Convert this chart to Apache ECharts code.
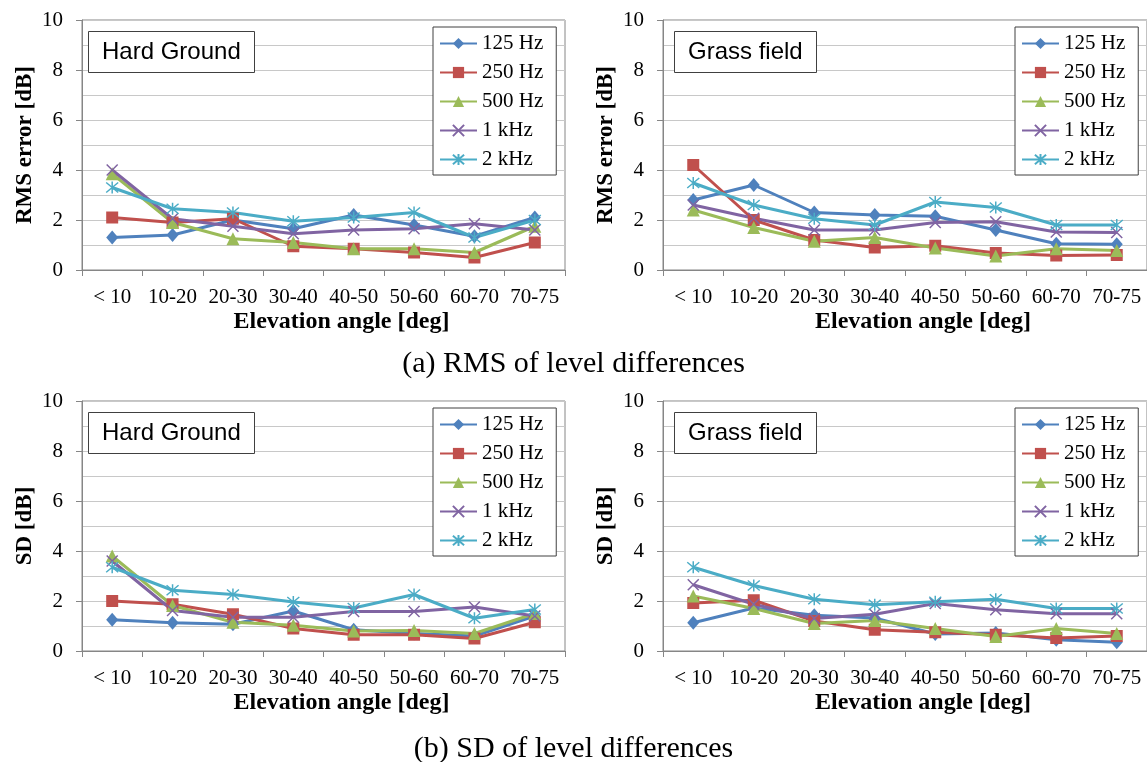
<!DOCTYPE html>
<html>
<head>
<meta charset="utf-8">
<script src="https://cdn.jsdelivr.net/npm/echarts@6/dist/echarts.min.js"></script>
<style>
  html, body { margin: 0; padding: 0; background: #fff; }
  #main { width: 1147px; height: 762px; }
</style>
</head>
<body>
<div id="main"></div>
<script>
var categories = ['< 10', '10-20', '20-30', '30-40', '40-50', '50-60', '60-70', '70-75'];
var seriesNames = ['125 Hz', '250 Hz', '500 Hz', '1 kHz', '2 kHz'];

// (a) RMS, hard ground
var rmsHard125 = [1.3, 1.4, 2.0, 1.65, 2.2, 1.8, 1.35, 2.1];
var rmsHard250 = [2.1, 1.9, 2.05, 0.95, 0.85, 0.7, 0.5, 1.1];
var rmsHard500 = [3.85, 1.9, 1.25, 1.1, 0.85, 0.85, 0.7, 1.75];
var rmsHard1k = [4.0, 2.05, 1.75, 1.45, 1.6, 1.65, 1.85, 1.6];
var rmsHard2k = [3.3, 2.45, 2.3, 1.95, 2.1, 2.3, 1.3, 2.0];

// (a) RMS, grass field
var rmsGrass125 = [2.8, 3.4, 2.3, 2.2, 2.15, 1.6, 1.05, 1.03];
var rmsGrass250 = [4.2, 2.0, 1.2, 0.9, 0.97, 0.68, 0.58, 0.6];
var rmsGrass500 = [2.4, 1.7, 1.15, 1.3, 0.88, 0.56, 0.85, 0.78];
var rmsGrass1k = [2.6, 2.07, 1.6, 1.6, 1.9, 1.93, 1.52, 1.5];
var rmsGrass2k = [3.48, 2.6, 2.05, 1.8, 2.72, 2.5, 1.8, 1.8];

// (b) SD, hard ground
var sdHard125 = [1.25, 1.13, 1.07, 1.6, 0.85, 0.7, 0.6, 1.4];
var sdHard250 = [2.0, 1.87, 1.47, 0.9, 0.65, 0.65, 0.5, 1.15];
var sdHard500 = [3.8, 1.82, 1.15, 1.03, 0.8, 0.82, 0.7, 1.5];
var sdHard1k = [3.6, 1.62, 1.35, 1.35, 1.58, 1.58, 1.76, 1.4];
var sdHard2k = [3.35, 2.43, 2.26, 1.96, 1.72, 2.26, 1.31, 1.66];

// (b) SD, grass field
var sdGrass125 = [1.13, 1.72, 1.43, 1.32, 0.68, 0.72, 0.45, 0.35];
var sdGrass250 = [1.92, 2.03, 1.2, 0.85, 0.75, 0.65, 0.52, 0.6];
var sdGrass500 = [2.2, 1.7, 1.1, 1.22, 0.9, 0.58, 0.9, 0.7];
var sdGrass1k = [2.65, 1.87, 1.3, 1.47, 1.9, 1.65, 1.49, 1.49];
var sdGrass2k = [3.35, 2.62, 2.07, 1.85, 1.97, 2.07, 1.7, 1.7];

var colors = ['#4F81BD', '#C0504D', '#9BBB59', '#8064A2', '#4BACC6'];
var symbols = ['diamond', 'rect', 'triangle',
  'path://M0,0L10,10M10,0L0,10',
  'path://M0,0L10,10M10,0L0,10M5,-1L5,11'];
var symbolSizes = [[12, 14], 12, 13, 11, 12];

var SERIF = '"Liberation Serif", "Times New Roman", serif';
var SANS = '"Liberation Sans", Arial, sans-serif';

var panels = [
  { left: 82, top: 20, width: 483, yName: 'RMS error [dB]', box: 'Hard Ground', legendLeft: 433, data: [rmsHard125, rmsHard250, rmsHard500, rmsHard1k, rmsHard2k] },
  { left: 663, top: 20, width: 484, yName: 'RMS error [dB]', box: 'Grass field', legendLeft: 1015, data: [rmsGrass125, rmsGrass250, rmsGrass500, rmsGrass1k, rmsGrass2k] },
  { left: 82, top: 401, width: 483, yName: 'SD [dB]', box: 'Hard Ground', legendLeft: 433, data: [sdHard125, sdHard250, sdHard500, sdHard1k, sdHard2k] },
  { left: 663, top: 401, width: 484, yName: 'SD [dB]', box: 'Grass field', legendLeft: 1015, data: [sdGrass125, sdGrass250, sdGrass500, sdGrass1k, sdGrass2k] }
];

var grid = [], xAxis = [], yAxis = [], series = [], legend = [], title = [];

panels.forEach(function(p, i) {
  grid.push({
    left: p.left, top: p.top, width: p.width, height: 250,
    show: true, borderColor: '#868686', borderWidth: 1, containLabel: false
  });
  xAxis.push({
    type: 'category', gridIndex: i, data: categories, boundaryGap: true,
    name: 'Elevation angle [deg]', nameLocation: 'middle', nameGap: 40,
    nameTextStyle: { fontFamily: SERIF, fontSize: 24, fontWeight: 'bold', color: '#000', padding: [0, 0, 0, 36] },
    axisLine: { lineStyle: { color: '#868686', width: 1 } },
    axisTick: { show: true, alignWithLabel: false, length: 6, lineStyle: { color: '#868686' } },
    axisLabel: { fontFamily: SERIF, fontSize: 21, color: '#000', margin: 17, interval: 0 },
    splitLine: { show: false }
  });
  yAxis.push({
    type: 'value', gridIndex: i, min: 0, max: 10, interval: 2,
    name: p.yName, nameLocation: 'middle', nameGap: 45,
    nameTextStyle: { fontFamily: SERIF, fontSize: 23, fontWeight: 'bold', color: '#000' },
    axisLine: { show: true, lineStyle: { color: '#868686', width: 1 } },
    axisTick: { show: true, length: 6, lineStyle: { color: '#868686' } },
    axisLabel: { fontFamily: SERIF, fontSize: 21, color: '#000', margin: 19 },
    splitLine: { show: true, lineStyle: { color: '#c8c8c8', width: 1 } },
    minorTick: { show: false, splitNumber: 2 },
    minorSplitLine: { show: true, lineStyle: { color: '#c8c8c8', width: 1 } }
  });
  p.data.forEach(function(vals, k) {
    series.push({
      type: 'line', name: seriesNames[k], xAxisIndex: i, yAxisIndex: i,
      data: vals,
      symbol: symbols[k], symbolSize: symbolSizes[k],
      lineStyle: { color: colors[k], width: 3 },
      itemStyle: k >= 3
        ? { color: colors[k], borderColor: colors[k], borderWidth: 1.5 }
        : { color: colors[k] },
      emphasis: { disabled: true },
      animation: false
    });
  });
  legend.push({
    orient: 'vertical',
    left: p.legendLeft,
    top: p.top + 7,
    data: seriesNames,
    backgroundColor: '#fff',
    borderColor: '#404040', borderWidth: 1, borderRadius: 0,
    padding: [6, 13, 5, 6],
    itemWidth: 37, itemHeight: 14, itemGap: 8,
    textStyle: { fontFamily: SERIF, fontSize: 21, color: '#000', lineHeight: 20 },
    selectedMode: false
  });
  title.push({
    text: p.box,
    left: p.left + (i % 2 ? 11 : 6), top: p.top + 11,
    borderColor: '#404040', borderWidth: 1,
    padding: [8, 14, 8, 14],
    backgroundColor: '#fff',
    textStyle: { fontFamily: SANS, fontSize: 24, fontWeight: 'normal', color: '#000', lineHeight: 26 }
  });
});

title.push({
  text: '(a) RMS of level differences', left: 'center', top: 344,
  textStyle: { fontFamily: SERIF, fontSize: 30, fontWeight: 'normal', color: '#000' }
});
title.push({
  text: '(b) SD of level differences', left: 'center', top: 729,
  textStyle: { fontFamily: SERIF, fontSize: 30, fontWeight: 'normal', color: '#000' }
});

var chart = echarts.init(document.getElementById('main'), null, { renderer: 'canvas' });
chart.setOption({
  animation: false,
  backgroundColor: '#fff',
  title: title,
  legend: legend,
  grid: grid,
  xAxis: xAxis,
  yAxis: yAxis,
  series: series
});
</script>
</body>
</html>
